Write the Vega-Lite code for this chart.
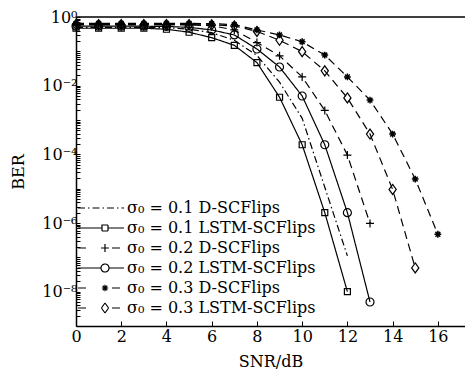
{
  "$schema": "https://vega.github.io/schema/vega-lite/v6.json",
  "width": 389,
  "height": 309,
  "autosize": {"type": "none"},
  "padding": {"left": 76, "top": 17, "right": 0, "bottom": 46},
  "background": "white",
  "config": {
    "view": {"stroke": null},
    "axis": {
      "domainColor": "black", "domainWidth": 1.5, "tickColor": "black", "tickWidth": 1,
      "labelFont": "DejaVu Serif", "labelFontSize": 16, "labelColor": "black",
      "titleFont": "DejaVu Serif", "titleFontSize": 16, "titleFontWeight": "normal", "titleColor": "black",
      "grid": false, "labelFlush": false, "labelOverlap": false
    },
    "point": {"filled": false, "color": "black", "strokeWidth": 1.2, "size": 64, "opacity": 1}
  },
  "data": {"values": [
    {"s": "σ₀ = 0.1 D-SCFlips", "x": 0, "y": 0.5}, {"s": "σ₀ = 0.1 D-SCFlips", "x": 1, "y": 0.5}, {"s": "σ₀ = 0.1 D-SCFlips", "x": 2, "y": 0.5}, {"s": "σ₀ = 0.1 D-SCFlips", "x": 3, "y": 0.5}, {"s": "σ₀ = 0.1 D-SCFlips", "x": 4, "y": 0.49}, {"s": "σ₀ = 0.1 D-SCFlips", "x": 5, "y": 0.44}, {"s": "σ₀ = 0.1 D-SCFlips", "x": 6, "y": 0.35}, {"s": "σ₀ = 0.1 D-SCFlips", "x": 7, "y": 0.21}, {"s": "σ₀ = 0.1 D-SCFlips", "x": 8, "y": 0.076}, {"s": "σ₀ = 0.1 D-SCFlips", "x": 9, "y": 0.0126}, {"s": "σ₀ = 0.1 D-SCFlips", "x": 10, "y": 0.00112}, {"s": "σ₀ = 0.1 D-SCFlips", "x": 11, "y": 1.1e-5}, {"s": "σ₀ = 0.1 D-SCFlips", "x": 12, "y": 1.1e-7},
    {"s": "σ₀ = 0.1 LSTM-SCFlips", "x": 0, "y": 0.47}, {"s": "σ₀ = 0.1 LSTM-SCFlips", "x": 1, "y": 0.47}, {"s": "σ₀ = 0.1 LSTM-SCFlips", "x": 2, "y": 0.47}, {"s": "σ₀ = 0.1 LSTM-SCFlips", "x": 3, "y": 0.47}, {"s": "σ₀ = 0.1 LSTM-SCFlips", "x": 4, "y": 0.44}, {"s": "σ₀ = 0.1 LSTM-SCFlips", "x": 5, "y": 0.36}, {"s": "σ₀ = 0.1 LSTM-SCFlips", "x": 6, "y": 0.25}, {"s": "σ₀ = 0.1 LSTM-SCFlips", "x": 7, "y": 0.15}, {"s": "σ₀ = 0.1 LSTM-SCFlips", "x": 8, "y": 0.047}, {"s": "σ₀ = 0.1 LSTM-SCFlips", "x": 9, "y": 0.0046}, {"s": "σ₀ = 0.1 LSTM-SCFlips", "x": 10, "y": 0.00019}, {"s": "σ₀ = 0.1 LSTM-SCFlips", "x": 11, "y": 2e-6}, {"s": "σ₀ = 0.1 LSTM-SCFlips", "x": 12, "y": 1e-8},
    {"s": "σ₀ = 0.2 D-SCFlips", "x": 0, "y": 0.6}, {"s": "σ₀ = 0.2 D-SCFlips", "x": 1, "y": 0.6}, {"s": "σ₀ = 0.2 D-SCFlips", "x": 2, "y": 0.6}, {"s": "σ₀ = 0.2 D-SCFlips", "x": 3, "y": 0.6}, {"s": "σ₀ = 0.2 D-SCFlips", "x": 4, "y": 0.6}, {"s": "σ₀ = 0.2 D-SCFlips", "x": 5, "y": 0.59}, {"s": "σ₀ = 0.2 D-SCFlips", "x": 6, "y": 0.56}, {"s": "σ₀ = 0.2 D-SCFlips", "x": 7, "y": 0.42}, {"s": "σ₀ = 0.2 D-SCFlips", "x": 8, "y": 0.18}, {"s": "σ₀ = 0.2 D-SCFlips", "x": 9, "y": 0.074}, {"s": "σ₀ = 0.2 D-SCFlips", "x": 10, "y": 0.018}, {"s": "σ₀ = 0.2 D-SCFlips", "x": 11, "y": 0.0019}, {"s": "σ₀ = 0.2 D-SCFlips", "x": 12, "y": 9.5e-5}, {"s": "σ₀ = 0.2 D-SCFlips", "x": 13, "y": 9.7e-7},
    {"s": "σ₀ = 0.2 LSTM-SCFlips", "x": 0, "y": 0.54}, {"s": "σ₀ = 0.2 LSTM-SCFlips", "x": 1, "y": 0.54}, {"s": "σ₀ = 0.2 LSTM-SCFlips", "x": 2, "y": 0.54}, {"s": "σ₀ = 0.2 LSTM-SCFlips", "x": 3, "y": 0.54}, {"s": "σ₀ = 0.2 LSTM-SCFlips", "x": 4, "y": 0.53}, {"s": "σ₀ = 0.2 LSTM-SCFlips", "x": 5, "y": 0.5}, {"s": "σ₀ = 0.2 LSTM-SCFlips", "x": 6, "y": 0.42}, {"s": "σ₀ = 0.2 LSTM-SCFlips", "x": 7, "y": 0.3}, {"s": "σ₀ = 0.2 LSTM-SCFlips", "x": 8, "y": 0.117}, {"s": "σ₀ = 0.2 LSTM-SCFlips", "x": 9, "y": 0.035}, {"s": "σ₀ = 0.2 LSTM-SCFlips", "x": 10, "y": 0.005}, {"s": "σ₀ = 0.2 LSTM-SCFlips", "x": 11, "y": 0.00019}, {"s": "σ₀ = 0.2 LSTM-SCFlips", "x": 12, "y": 2e-6}, {"s": "σ₀ = 0.2 LSTM-SCFlips", "x": 13, "y": 5e-9},
    {"s": "σ₀ = 0.3 D-SCFlips", "x": 0, "y": 0.65}, {"s": "σ₀ = 0.3 D-SCFlips", "x": 1, "y": 0.65}, {"s": "σ₀ = 0.3 D-SCFlips", "x": 2, "y": 0.65}, {"s": "σ₀ = 0.3 D-SCFlips", "x": 3, "y": 0.65}, {"s": "σ₀ = 0.3 D-SCFlips", "x": 4, "y": 0.65}, {"s": "σ₀ = 0.3 D-SCFlips", "x": 5, "y": 0.65}, {"s": "σ₀ = 0.3 D-SCFlips", "x": 6, "y": 0.64}, {"s": "σ₀ = 0.3 D-SCFlips", "x": 7, "y": 0.6}, {"s": "σ₀ = 0.3 D-SCFlips", "x": 8, "y": 0.42}, {"s": "σ₀ = 0.3 D-SCFlips", "x": 9, "y": 0.3}, {"s": "σ₀ = 0.3 D-SCFlips", "x": 10, "y": 0.19}, {"s": "σ₀ = 0.3 D-SCFlips", "x": 11, "y": 0.078}, {"s": "σ₀ = 0.3 D-SCFlips", "x": 12, "y": 0.018}, {"s": "σ₀ = 0.3 D-SCFlips", "x": 13, "y": 0.0038}, {"s": "σ₀ = 0.3 D-SCFlips", "x": 14, "y": 0.00039}, {"s": "σ₀ = 0.3 D-SCFlips", "x": 15, "y": 1.9e-5}, {"s": "σ₀ = 0.3 D-SCFlips", "x": 16, "y": 4.7e-7},
    {"s": "σ₀ = 0.3 LSTM-SCFlips", "x": 0, "y": 0.6}, {"s": "σ₀ = 0.3 LSTM-SCFlips", "x": 1, "y": 0.6}, {"s": "σ₀ = 0.3 LSTM-SCFlips", "x": 2, "y": 0.6}, {"s": "σ₀ = 0.3 LSTM-SCFlips", "x": 3, "y": 0.6}, {"s": "σ₀ = 0.3 LSTM-SCFlips", "x": 4, "y": 0.6}, {"s": "σ₀ = 0.3 LSTM-SCFlips", "x": 5, "y": 0.6}, {"s": "σ₀ = 0.3 LSTM-SCFlips", "x": 6, "y": 0.59}, {"s": "σ₀ = 0.3 LSTM-SCFlips", "x": 7, "y": 0.55}, {"s": "σ₀ = 0.3 LSTM-SCFlips", "x": 8, "y": 0.38}, {"s": "σ₀ = 0.3 LSTM-SCFlips", "x": 9, "y": 0.21}, {"s": "σ₀ = 0.3 LSTM-SCFlips", "x": 10, "y": 0.098}, {"s": "σ₀ = 0.3 LSTM-SCFlips", "x": 11, "y": 0.027}, {"s": "σ₀ = 0.3 LSTM-SCFlips", "x": 12, "y": 0.0044}, {"s": "σ₀ = 0.3 LSTM-SCFlips", "x": 13, "y": 0.00039}, {"s": "σ₀ = 0.3 LSTM-SCFlips", "x": 14, "y": 9.5e-6}, {"s": "σ₀ = 0.3 LSTM-SCFlips", "x": 15, "y": 4.9e-8}
  ]},
  "layer": [
    {
      "mark": {"type": "line", "color": "black", "strokeWidth": 1.2},
      "encoding": {
        "x": {"field": "x", "type": "quantitative", "scale": {"domain": [0, 17.2], "nice": false},
          "axis": {"title": "SNR/dB", "values": [0, 2, 4, 6, 8, 10, 12, 14, 16], "tickSize": -5, "labelPadding": 7, "titlePadding": 9}},
        "y": {"field": "y", "type": "quantitative", "scale": {"type": "log", "domain": [1e-9, 1], "nice": false},
          "axis": {"title": "BER", "tickSize": -4, "labelPadding": 3, "titlePadding": 15, "labelBaseline": "middle",
            "values": [1e-9,2e-9,3e-9,4e-9,5e-9,6e-9,7e-9,8e-9,9e-9,1e-8,2e-8,3e-8,4e-8,5e-8,6e-8,7e-8,8e-8,9e-8,1e-7,2e-7,3e-7,4e-7,5e-7,6e-7,7e-7,8e-7,9e-7,0.000001,0.000002,0.000003,0.000004,0.000005,0.000006,0.000007,0.000008,0.000009,0.00001,0.00002,0.00003,0.00004,0.00005,0.00006,0.00007,0.00008,0.00009,0.0001,0.0002,0.0003,0.0004,0.0005,0.0006,0.0007,0.0008,0.0009,0.001,0.002,0.003,0.004,0.005,0.006,0.007,0.008,0.009,0.01,0.02,0.03,0.04,0.05,0.06,0.07,0.08,0.09,0.1,0.2,0.3,0.4,0.5,0.6,0.7,0.8,0.9,1],
            "labelExpr": "datum.value == 1 ? '10⁰' : datum.value == 0.01 ? '10⁻²' : datum.value == 0.0001 ? '10⁻⁴' : datum.value == 0.000001 ? '10⁻⁶' : datum.value == 1e-8 ? '10⁻⁸' : ''",
            "encode": {"ticks": {"update": {"x2": {"signal": "indexof([1, 0.01, 0.0001, 0.000001, 1e-8], datum.value) >= 0 ? 7 : 4"}}}}}},
        "strokeDash": {"field": "s", "type": "nominal",
          "scale": {"domain": ["σ₀ = 0.1 D-SCFlips", "σ₀ = 0.1 LSTM-SCFlips", "σ₀ = 0.2 D-SCFlips", "σ₀ = 0.2 LSTM-SCFlips", "σ₀ = 0.3 D-SCFlips", "σ₀ = 0.3 LSTM-SCFlips"],
            "range": [[7, 3, 1.5, 3], [1, 0], [8, 5], [1, 0], [8, 5], [8, 5]]},
          "legend": {"orient": "none", "legendX": 0, "legendY": 183, "title": null, "padding": 0,
            "symbolSize": 64, "symbolStrokeWidth": 1.2, "symbolStrokeColor": "black", "symbolFillColor": "transparent",
            "labelFont": "DejaVu Serif", "labelFontSize": 16,
            "labelColor": "black", "labelLimit": 0, "symbolOffset": 21, "labelOffset": 14, "rowPadding": 4,
            "symbolType": {"expr": "['M-6.75,0H4.75', 'M-6.75,0H-0.75M0.75,0H4.75M-0.75,-0.75H0.75V0.75H-0.75Z', 'M-6.75,0H-4.75M1.75,0H3.75M-1,0H1M0,-1V1', 'M-6.75,0H-1M1,0H4.75M-1,0A1,1 0 1,0 1,0A1,1 0 1,0 -1,0', 'M-6.75,0H-4.75M1.75,0H3.75M-0.8,0H0.8M0,-0.8V0.8M-0.57,-0.57L0.57,0.57M-0.57,0.57L0.57,-0.57', 'M-6.75,0H-4.75M1.75,0H3.75M0,-1.25L0.9,0M0.9,0L0,1.25M0,1.25L-0.9,0M-0.9,0L0,-1.25'][datum.index]"}
          }
        }
      }
    },
    {
      "transform": [{"filter": "datum.s == 'σ₀ = 0.1 LSTM-SCFlips'"}],
      "mark": {"type": "point", "shape": "M-0.75,-0.75H0.75V0.75H-0.75Z"},
      "encoding": {"x": {"field": "x", "type": "quantitative"}, "y": {"field": "y", "type": "quantitative"}}
    },
    {
      "transform": [{"filter": "datum.s == 'σ₀ = 0.2 D-SCFlips'"}],
      "mark": {"type": "point", "shape": "M-1,0H1M0,-1V1"},
      "encoding": {"x": {"field": "x", "type": "quantitative"}, "y": {"field": "y", "type": "quantitative"}}
    },
    {
      "transform": [{"filter": "datum.s == 'σ₀ = 0.2 LSTM-SCFlips'"}],
      "mark": {"type": "point", "shape": "circle"},
      "encoding": {"x": {"field": "x", "type": "quantitative"}, "y": {"field": "y", "type": "quantitative"}}
    },
    {
      "transform": [{"filter": "datum.s == 'σ₀ = 0.3 D-SCFlips'"}],
      "mark": {"type": "point", "shape": "M-0.85,0H0.85M0,-0.85V0.85M-0.6,-0.6L0.6,0.6M-0.6,0.6L0.6,-0.6", "strokeWidth": 1.5},
      "encoding": {"x": {"field": "x", "type": "quantitative"}, "y": {"field": "y", "type": "quantitative"}}
    },
    {
      "transform": [{"filter": "datum.s == 'σ₀ = 0.3 LSTM-SCFlips'"}],
      "mark": {"type": "point", "shape": "M0,-1.25L0.9,0L0,1.25L-0.9,0Z"},
      "encoding": {"x": {"field": "x", "type": "quantitative"}, "y": {"field": "y", "type": "quantitative"}}
    },
    {
      "data": {"values": [{}]},
      "mark": {"type": "rule", "color": "black", "strokeWidth": 1.5},
      "encoding": {"y": {"datum": 1}}
    }
  ]
}
